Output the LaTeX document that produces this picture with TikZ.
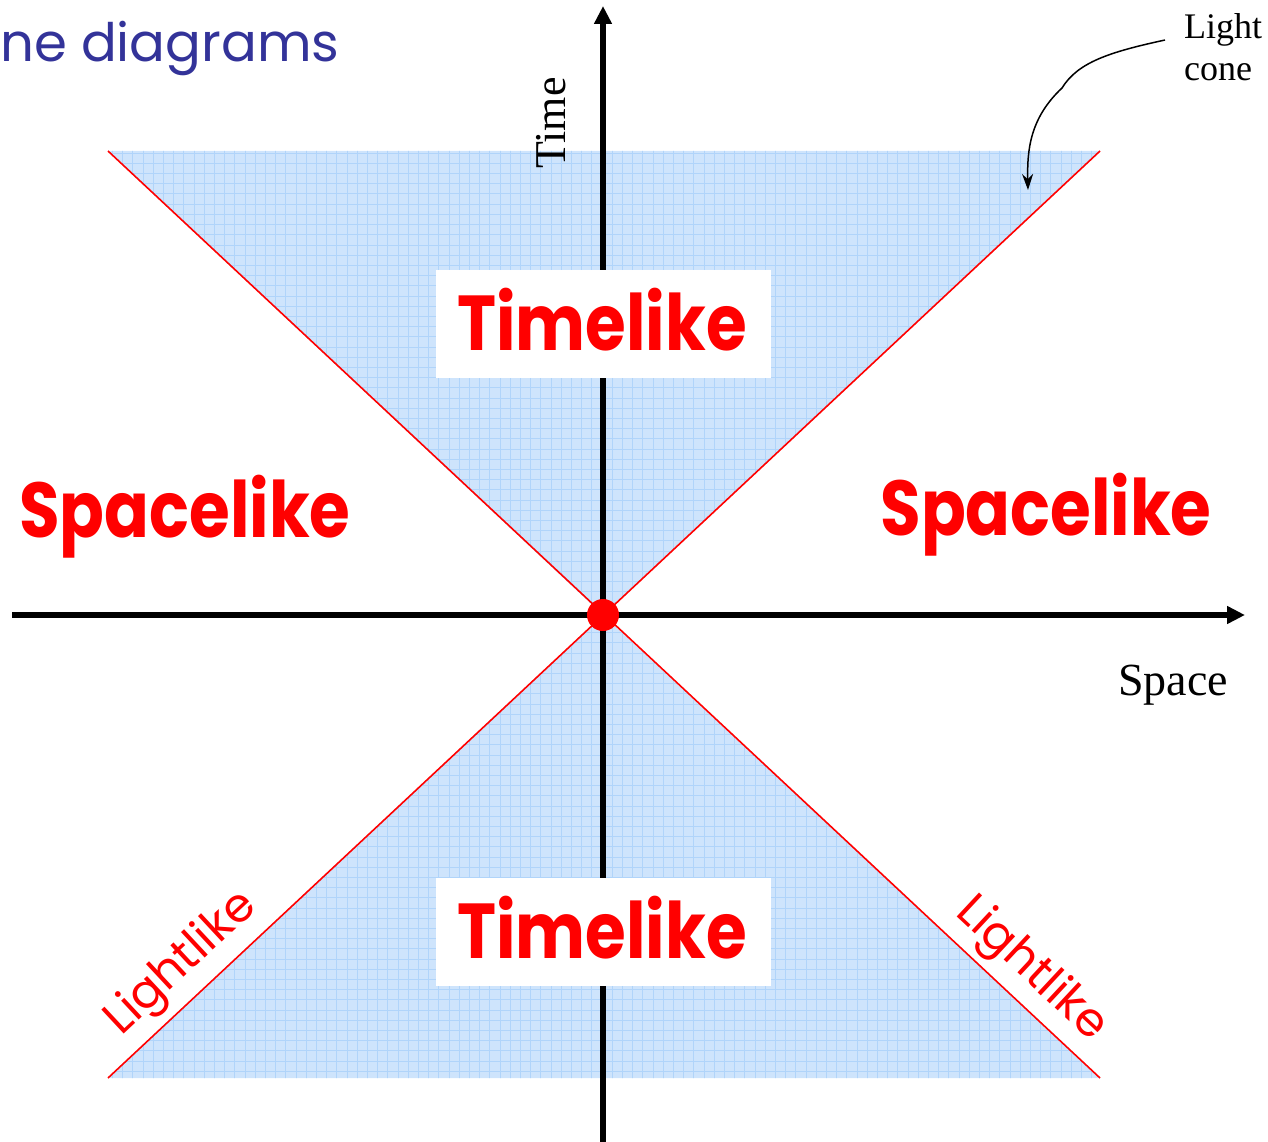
\documentclass[tikz,border=0pt]{standalone}
\usepackage{fontspec}
\setmainfont{Liberation Serif}
\newfontfamily\comic{Poppins}
\usetikzlibrary{arrows.meta}
\definecolor{conefill}{RGB}{206,228,252}
\definecolor{conegrid}{RGB}{176,212,250}
\definecolor{titleblue}{RGB}{51,51,153}
\newcommand{\tallword}[1]{\scalebox{1}[1.18]{#1}}
\begin{document}
\begin{tikzpicture}[x=1pt,y=-1pt,
  axisline/.style={line width=5.5pt,-{Triangle[length=18pt,width=17pt]}},
  coneline/.style={red,line width=1.6pt},
  whitebox/.style={fill=white,minimum width=335pt,minimum height=108pt,inner sep=0pt},
  bigred/.style={text=red,inner sep=0pt,anchor=base,font=\comic\bfseries\fontsize{66}{70}\selectfont},
  lightlabel/.style={text=red,inner sep=0pt,font=\comic\fontsize{47}{50}\selectfont},
  serif/.style={inner sep=0pt,text=black}]
\useasboundingbox (0,0) rectangle (1268,1142);
\coordinate (O) at (603,615);
\coordinate (TL) at (108,151);
\coordinate (TR) at (1100,151);
\coordinate (BL) at (108,1078);
\coordinate (BR) at (1100,1078);
% cone fill
\begin{scope}
  \clip (TL) -- (TR) -- (O) -- cycle (BL) -- (BR) -- (O) -- cycle;
  \fill[conefill] (100,140) rectangle (1110,1090);
  \draw[conegrid,line width=0.6pt] (100,140) grid[step=10.2pt] (1110,1090);
\end{scope}
\draw[coneline] (TL) -- (BR);
\draw[coneline] (TR) -- (BL);
% axes
\coordinate (xs) at (12,615);
\coordinate (xe) at (1245,615);
\coordinate (ys) at (603,1142);
\coordinate (ye) at (603,6);
\draw[axisline] (xs) -- (xe);
\draw[axisline] (ys) -- (ye);
% boxes
\node[whitebox] (tbox) at (603.5,324) {};
\node[whitebox] (bbox) at (603.5,932) {};
\node[bigred] (ttext) at (602,350) {\tallword{Timelike}};
\node[bigred] (btext) at (602,958) {\tallword{Timelike}};
\node[bigred] (sleft) at (185,537) {\tallword{Spacelike}};
\node[bigred] (sright) at (1046,535) {\tallword{Spacelike}};
\node[lightlabel,rotate=43] (lleft) at (182,964) {Lightlike};
\node[lightlabel,rotate=-43] (lright) at (1031,970) {Lightlike};
% origin
\node[circle,fill=red,minimum size=32pt,inner sep=0pt] (dot) at (O) {};
% labels
\node[serif,rotate=90,anchor=base,font=\fontsize{44}{48}\selectfont] (time) at (565,123) {Time};
\node[serif,anchor=base,font=\fontsize{46}{50}\selectfont] (space) at (1173,695) {Space};
\node[serif,anchor=north west,align=left,font=\fontsize{36}{42}\selectfont] (lcn) at (1184,13) {Light\\cone};
\coordinate (lcs) at (1165,40);
\coordinate (lce) at (1028,190);
\draw[line width=1.5pt,-{Stealth[length=16pt,width=11pt]}] (lcs) .. controls (1110,52) and (1078,62) .. (1062,88) .. controls (1030,118) and (1027,150) .. (lce);
% title
\node[anchor=base west,inner sep=0pt,text=titleblue,font=\comic\fontsize{53}{60}\selectfont] (title) at (0,62) {ne diagrams};
\end{tikzpicture}
\end{document}
